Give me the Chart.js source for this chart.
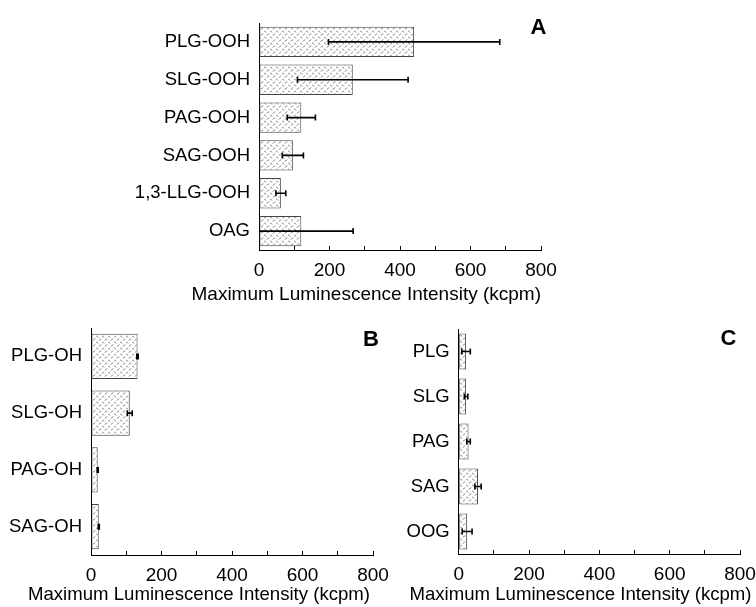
<!DOCTYPE html>
<html>
<head>
<meta charset="utf-8">
<script src="https://cdn.jsdelivr.net/npm/chart.js@4.4.0/dist/chart.umd.min.js"></script>
<style>
  html, body { margin: 0; padding: 0; background: #fff; width: 756px; height: 607px; overflow: hidden; position: relative; }
  canvas { position: absolute; }
</style>
</head>
<body>
<canvas id="cA" width="756" height="310" style="left:0px;top:0px;width:756px;height:310px"></canvas>
<canvas id="cB" width="420" height="310" style="left:0px;top:305px;width:420px;height:310px"></canvas>
<canvas id="cC" width="400" height="310" style="left:370px;top:304px;width:400px;height:310px"></canvas>
<script>
// ---- data ----
const catsA = ['PLG-OOH', 'SLG-OOH', 'PAG-OOH', 'SAG-OOH', '1,3-LLG-OOH', 'OAG'];
const valsA = [440, 266, 120, 96, 62, 120];
const errA  = [243, 157, 40, 30, 14, 147];

const catsB = ['PLG-OH', 'SLG-OH', 'PAG-OH', 'SAG-OH'];
const valsB = [132, 110, 19, 22];
const errB  = [2, 7, 1.5, 1.5];

const catsC = ['PLG', 'SLG', 'PAG', 'SAG', 'OOG'];
const valsC = [21, 21, 28, 55, 24];
const errC  = [12, 5, 5, 9, 14];

const xMin = 0, xMax = 800, xStep = 100;
const xLabelValues = [0, 200, 400, 600, 800];
const axisTitle = 'Maximum Luminescence Intensity (kcpm)';

const FONT = '"Liberation Sans", Arial, sans-serif';

// ---- hatch pattern ----
function makePattern() {
  const t = document.createElement('canvas');
  t.width = 6; t.height = 6;
  const g = t.getContext('2d');
  g.fillStyle = '#ffffff';
  g.fillRect(0, 0, 6, 6);
  g.strokeStyle = '#666';
  g.lineWidth = 1;
  g.beginPath();
  g.moveTo(0, 0.5); g.lineTo(2, 2.5);
  g.moveTo(3, 5.5); g.lineTo(5, 3.5);
  g.stroke();
  return g.createPattern(t, 'repeat');
}
const hatch = makePattern();

// ---- error bars plugin ----
const errorBars = {
  id: 'errorBars',
  afterDatasetsDraw(chart, args, opts) {
    const ctx = chart.ctx;
    const xs = chart.scales.x;
    const meta = chart.getDatasetMeta(0);
    const ca = chart.chartArea;
    const vals = chart.data.datasets[0].data;
    ctx.save();
    ctx.strokeStyle = '#000';
    ctx.lineWidth = 1.6;
    opts.errors.forEach((e, i) => {
      const y = meta.data[i].y;
      const lo = vals[i] - e, hi = vals[i] + e;
      let x1 = xs.getPixelForValue(lo), x2 = xs.getPixelForValue(hi);
      const loClipped = x1 < ca.left;
      if (loClipped) x1 = ca.left;
      ctx.beginPath();
      ctx.moveTo(x1, y); ctx.lineTo(x2, y);
      if (!loClipped) { ctx.moveTo(x1, y - 3); ctx.lineTo(x1, y + 3); }
      ctx.moveTo(x2, y - 3); ctx.lineTo(x2, y + 3);
      ctx.stroke();
    });
    ctx.restore();
  }
};

// ---- panel letter + axis title plugin ----
const panelText = {
  id: 'panelText',
  afterDraw(chart, args, opts) {
    const ctx = chart.ctx;
    ctx.save();
    ctx.fillStyle = '#000';
    ctx.textBaseline = 'alphabetic';
    ctx.font = 'bold 22px ' + FONT;
    ctx.textAlign = 'center';
    ctx.fillText(opts.letter, opts.lx, opts.ly);
    ctx.font = opts.tsize + 'px ' + FONT;
    ctx.textAlign = 'right';
    ctx.fillText(opts.title, opts.tx, opts.ty);
    ctx.restore();
  }
};

function makeChart(id, cats, vals, errs, yAxisWidth, rightPad, topPad, txt) {
  return new Chart(document.getElementById(id), {
    type: 'bar',
    data: {
      labels: cats,
      datasets: [{
        data: vals,
        backgroundColor: hatch,
        borderColor: '#444',
        borderWidth: 1,
        borderSkipped: false,
        categoryPercentage: 1.0,
        barPercentage: 0.8
      }]
    },
    options: {
      indexAxis: 'y',
      responsive: false,
      animation: false,
      devicePixelRatio: 1,
      layout: { padding: { left: 0, right: rightPad, top: topPad, bottom: 0 } },
      plugins: {
        legend: { display: false },
        tooltip: { enabled: false },
        errorBars: { errors: errs },
        panelText: txt
      },
      scales: {
        x: {
          type: 'linear',
          min: xMin, max: xMax,
          afterFit(s) { s.height = 60; },
          afterBuildTicks(s) {
            const t = [];
            for (let v = xMin; v <= xMax; v += xStep) t.push({ value: v });
            s.ticks = t;
          },
          ticks: {
            autoSkip: false,
            maxRotation: 0,
            padding: 13,
            color: '#000',
            font: { family: FONT, size: 19 },
            callback: (v) => xLabelValues.includes(v) ? String(v) : ''
          },
          grid: {
            display: true,
            drawOnChartArea: false,
            drawTicks: true,
            tickLength: -4,
            color: '#000',
            lineWidth: 1
          },
          border: { display: true, color: '#000', width: 1 },
          title: { display: false }
        },
        y: {
          afterFit(s) { s.width = yAxisWidth; },
          ticks: {
            padding: 9,
            color: '#000',
            font: { family: FONT, size: 18.5 }
          },
          grid: { display: false, drawTicks: false, tickLength: 0 },
          border: { display: true, color: '#000', width: 1 }
        }
      }
    },
    plugins: [errorBars, panelText]
  });
}

makeChart('cA', catsA, valsA, errA, 259, 215, 23,
  { letter: 'A', lx: 538.5, ly: 34, title: axisTitle, tsize: 19, tx: 541, ty: 300 });
makeChart('cB', catsB, valsB, errB, 91, 47, 23,
  { letter: 'B', lx: 371, ly: 40.5, title: axisTitle, tsize: 18.6, tx: 370, ty: 295 });
makeChart('cC', catsC, valsC, errC, 88.7, 30, 25,
  { letter: 'C', lx: 358.5, ly: 41, title: axisTitle, tsize: 18.6, tx: 381.5, ty: 296 });
</script>
</body>
</html>
